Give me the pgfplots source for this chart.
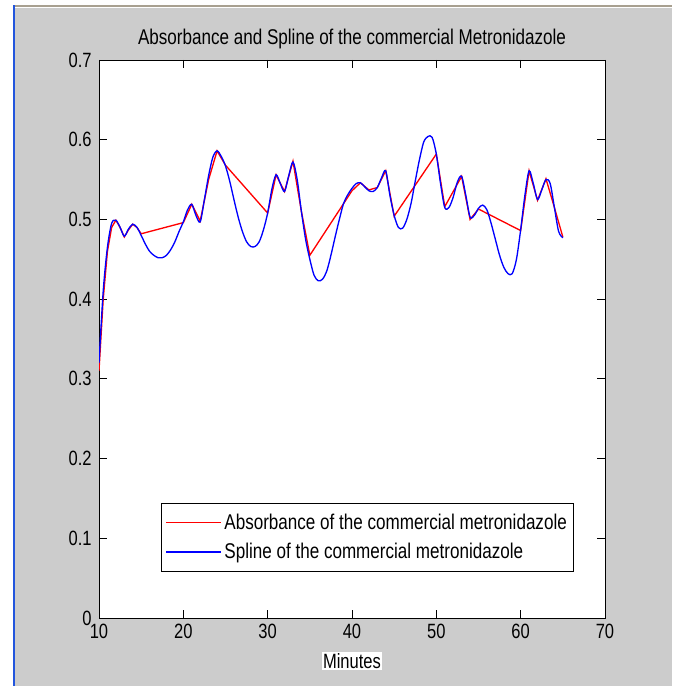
\documentclass[border=0pt]{standalone}
\usepackage{pgfplots}
\pgfplotsset{compat=1.18}
\usepackage{fontspec}
\setmainfont{Liberation Sans}[FakeStretch=0.8]
\definecolor{figgray}{HTML}{CCCCCC}
\definecolor{frametan}{HTML}{A8A090}
\definecolor{framblue}{HTML}{2255DD}

% absorbance (sampled points)
\pgfplotstableread{
x y
10 0.31
10.5 0.40
11 0.46
11.5 0.49
12 0.499
12.5 0.49
13 0.478
13.5 0.487
14 0.494
14.5 0.49
15 0.482
20 0.496
21 0.519
22 0.498
23 0.55
24 0.586
25 0.568
30 0.508
31 0.556
32 0.535
33 0.573
34 0.51
35 0.455
40 0.536
41 0.546
42 0.537
43 0.54
44 0.561
45 0.504
50 0.582
51 0.516
52 0.535
53 0.554
54 0.50
55 0.513
60 0.486
61 0.561
62 0.524
63 0.551
64 0.515
65 0.478
}\absdata

% spline
\pgfplotstableread{
x y
10 0.32
10.5 0.41
11 0.465
11.5 0.495
12 0.499
12.5 0.49
13 0.479
13.5 0.488
14 0.494
14.5 0.49
15 0.48
15.5 0.469
16 0.46
16.5 0.455
17 0.452
17.5 0.452
18 0.455
18.5 0.462
19 0.472
19.5 0.485
20 0.497
20.5 0.512
21 0.519
21.5 0.505
22 0.497
22.5 0.525
23 0.555
23.5 0.578
24 0.586
24.5 0.579
25 0.567
25.5 0.548
26 0.525
26.5 0.503
27 0.485
27.5 0.472
28 0.466
28.5 0.466
29 0.472
29.5 0.487
30 0.508
30.5 0.538
31 0.556
31.5 0.545
32 0.535
32.5 0.555
33 0.572
33.5 0.55
34 0.51
34.5 0.475
35 0.45
35.5 0.43
36 0.423
36.5 0.425
37 0.435
37.5 0.455
38 0.478
38.5 0.5
39 0.52
39.5 0.531
40 0.539
40.5 0.545
41 0.546
41.5 0.541
42 0.536
42.5 0.535
43 0.54
43.5 0.552
44 0.561
44.5 0.53
45 0.505
45.5 0.49
46 0.489
46.5 0.5
47 0.52
47.5 0.548
48 0.575
48.5 0.597
49 0.604
49.5 0.603
50 0.582
50.5 0.545
51 0.515
51.5 0.515
52 0.528
52.5 0.547
53 0.554
53.5 0.53
54 0.503
54.5 0.505
55 0.514
55.5 0.518
56 0.512
56.5 0.495
57 0.475
57.5 0.455
58 0.44
58.5 0.432
59 0.432
59.5 0.45
60 0.487
60.5 0.53
61 0.561
61.5 0.545
62 0.525
62.5 0.537
63 0.55
63.5 0.545
64 0.515
64.5 0.485
65 0.477
}\splinedata

\begin{document}
\begin{tikzpicture}
% figure window
\fill[white] (-74.25pt,-51pt) rectangle (429.75pt,463.5pt);
\fill[figgray] (-63pt,-51pt) rectangle (429.75pt,457.5pt);
\fill[frametan] (-63pt,458.6pt) rectangle (429.75pt,459.75pt);
\fill[framblue] (-64.5pt,-51pt) rectangle (-63pt,459.75pt);
\begin{axis}[at={(0,0)},anchor=south west,
    scale only axis,width=379.5pt,height=418.5pt,
    xmin=10,xmax=70,ymin=0,ymax=0.7,
    xtick={10,20,...,70},ytick={0,0.1,...,0.7},
    axis background/.style={fill=white},
    axis line style={black,line width=0.6pt},
    major tick style={black,line width=0.6pt},
    major tick length=6pt,
    font=\fontsize{15.5}{18}\selectfont,
    /pgf/number format/assume math mode=true,
    yticklabel style={/pgf/number format/fixed,/pgf/number format/precision=1,xshift=-2pt},
    xticklabel style={yshift=-1pt},
    title={Absorbance and Spline of the commercial Metronidazole},
    title style={at={(0.5,1)},anchor=center,yshift=9.5pt,font=\fontsize{16}{18}\selectfont},
    xlabel={Minutes},
    xlabel style={at={(0.5,0)},anchor=center,yshift=-32pt,fill=white,inner sep=1pt},
    legend cell align=left,
    legend style={at={(axis cs:66.3,0.058)},anchor=south east,
        inner xsep=3pt,inner ysep=6pt,
        font=\fontsize{16}{18}\selectfont,row sep=5pt},
    legend image code/.code={\draw[#1] (0pt,0pt) -- (41pt,0pt);},
    legend image post style={line width=1pt}]
\addplot[color=red,draw=red,line width=1pt] table[x=x,y=y] {\absdata};
\addlegendentry{Absorbance of the commercial metronidazole\hspace{19pt}}
\addplot[color=blue,draw=blue,line width=1pt,smooth] table[x=x,y=y] {\splinedata};
\addlegendentry{Spline of the commercial metronidazole}
\end{axis}
\end{tikzpicture}
\end{document}
